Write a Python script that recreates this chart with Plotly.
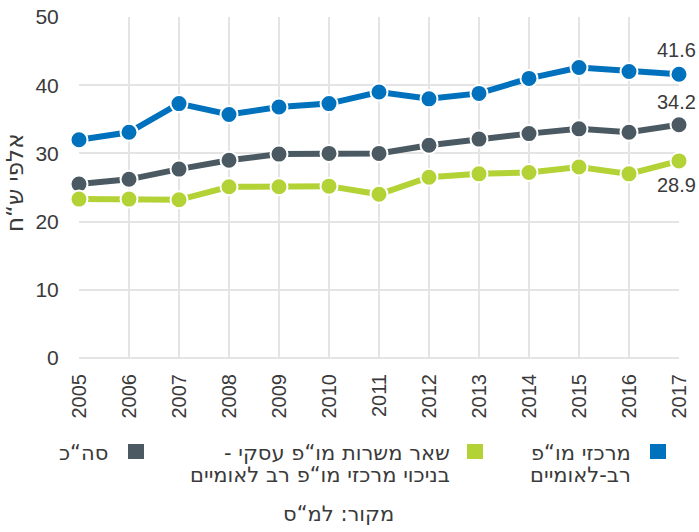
import plotly.graph_objects as go

years = [2005, 2006, 2007, 2008, 2009, 2010, 2011, 2012, 2013, 2014, 2015, 2016, 2017]
multinational = [32.0, 33.1, 37.3, 35.7, 36.8, 37.3, 39.0, 38.0, 38.8, 41.0, 42.6, 42.0, 41.6]
total = [25.5, 26.2, 27.7, 29.0, 29.9, 30.0, 30.0, 31.2, 32.1, 32.9, 33.6, 33.1, 34.2]
other = [23.3, 23.3, 23.2, 25.1, 25.1, 25.2, 24.0, 26.5, 27.0, 27.2, 28.0, 27.0, 28.9]

RLM = "\u200f"
names = [
    ["מרכזי מו“פ", "רב-לאומיים"],
    ["שאר משרות מו“פ עסקי -" + RLM, "בניכוי מרכזי מו“פ רב לאומיים"],
    ["סה“כ"],
]
colors = ["#0071BC", "#B3D236", "#4B5A62"]
y_title = "אלפי ש“ח"
source = "מקור: למ“ס"

FONT = "Liberation Sans, Arial, sans-serif"
HFONT = "DejaVu Sans, Liberation Sans, sans-serif"
TXT = "#3a3a3a"

fig = go.Figure()
series = [(total, colors[2]), (other, colors[1]), (multinational, colors[0])]
for vals, col in series:
    fig.add_trace(go.Scatter(
        x=years, y=vals, mode="lines+markers",
        line=dict(color=col, width=6),
        marker=dict(size=17, color=col, line=dict(color="white", width=2)),
        cliponaxis=False, showlegend=False, hoverinfo="x+y"))

# end labels
lab_font = dict(size=20, color=TXT, family=FONT)
fig.add_annotation(x=years[-1], y=multinational[-1], text=f"{multinational[-1]:.1f}", showarrow=False,
                   xanchor="right", yanchor="bottom", yshift=11, xshift=19, font=lab_font)
fig.add_annotation(x=years[-1], y=total[-1], text=f"{total[-1]:.1f}", showarrow=False,
                   xanchor="right", yanchor="bottom", yshift=10, xshift=19, font=lab_font)
fig.add_annotation(x=years[-1], y=other[-1], text=f"{other[-1]:.1f}", showarrow=False,
                   xanchor="right", yanchor="top", yshift=-11, xshift=19, font=lab_font)

L, R, T, B = 79, 20, 17, 174
W, H = 699, 532
pw, ph = W - L - R, H - T - B

def px(xp):
    return (xp - L) / pw

def py(yp):
    return (H - B - yp) / ph

# y-axis title
fig.add_annotation(x=px(15), y=py(183), xref="paper", yref="paper", text=y_title, textangle=-90,
                   showarrow=False, xanchor="center", yanchor="middle",
                   font=dict(size=23, color=TXT, family=HFONT))

# manual legend (RTL)
leg_font = dict(size=21, color=TXT, family=HFONT)
legend_items = [(names[0], colors[0], 650, 633), (names[1], colors[1], 467, 452), (names[2], colors[2], 128, 110)]
for lines, col, sqx, tx in legend_items:
    fig.add_shape(type="rect", xref="paper", yref="paper",
                  x0=px(sqx), x1=px(sqx + 16), y0=py(459), y1=py(444),
                  fillcolor=col, line=dict(width=0))
    for i, ln in enumerate(lines):
        fig.add_annotation(x=px(tx), y=py(453 + 22 * i), xref="paper", yref="paper", text=ln,
                           showarrow=False, xanchor="right", yanchor="middle", align="right",
                           font=leg_font)

fig.add_annotation(x=px(338), y=py(514), xref="paper", yref="paper", text=source,
                   showarrow=False, xanchor="center", yanchor="middle",
                   font=leg_font)

fig.update_layout(
    width=W, height=H, margin=dict(l=L, r=R, t=T, b=B, autoexpand=False),
    plot_bgcolor="white", paper_bgcolor="white",
    font=dict(family=FONT, color=TXT),
    xaxis=dict(range=[2005, 2017], tickmode="array", tickvals=years, ticktext=[str(y) for y in years],
               tickangle=-90, showgrid=True, gridcolor="#e4e4e4", gridwidth=2, automargin=False,
               zeroline=False, showline=False, ticks="outside", ticklen=7, tickcolor="rgba(0,0,0,0)",
               tickfont=dict(size=20, color=TXT, family=FONT), fixedrange=True),
    yaxis=dict(range=[0, 50], dtick=10, showgrid=True, gridcolor="#e4e4e4", gridwidth=2, automargin=False,
               zeroline=True, zerolinecolor="#e4e4e4", zerolinewidth=2, showline=False,
               ticks="outside", ticklen=15, tickcolor="rgba(0,0,0,0)",
               tickfont=dict(size=21, color=TXT, family=FONT), fixedrange=True),
)

fig.write_html("out.html", config={"displayModeBar": False},
               post_script="document.body.style.margin='0';document.body.style.overflow='hidden';")
